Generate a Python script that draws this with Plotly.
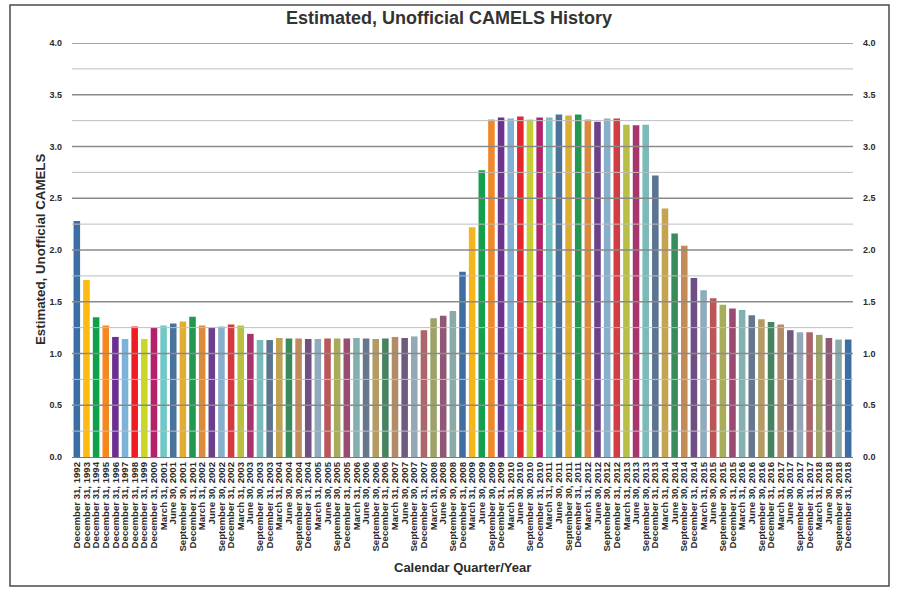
import colorsys
import plotly.graph_objects as go

# ---------------- data ----------------
annual_years = list(range(1992, 2001))
quarter_years = list(range(2001, 2019))
quarter_days = ["March 31", "June 30", "September 30", "December 31"]

categories = [f"December 31, {y}" for y in annual_years] + [
    f"{q}, {y}" for y in quarter_years for q in quarter_days
]

camels = [
    2.28, 1.71, 1.35, 1.27, 1.16, 1.14, 1.26, 1.14, 1.25,   # 1992-2000 (annual)
    1.27, 1.29, 1.31, 1.355,    # 2001
    1.27, 1.25, 1.26, 1.28,     # 2002
    1.27, 1.19, 1.13, 1.13,     # 2003
    1.15, 1.145, 1.145, 1.14,   # 2004
    1.14, 1.145, 1.145, 1.145,  # 2005
    1.15, 1.145, 1.14, 1.145,   # 2006
    1.16, 1.15, 1.165, 1.225,   # 2007
    1.34, 1.365, 1.41, 1.79,    # 2008
    2.22, 2.77, 3.26, 3.28,     # 2009
    3.27, 3.29, 3.26, 3.28,     # 2010
    3.28, 3.31, 3.30, 3.31,     # 2011
    3.26, 3.24, 3.27, 3.27,     # 2012
    3.21, 3.205, 3.21, 2.72,    # 2013
    2.40, 2.16, 2.04, 1.73,     # 2014
    1.61, 1.535, 1.47, 1.435,   # 2015
    1.42, 1.37, 1.33, 1.305,    # 2016
    1.28, 1.225, 1.205, 1.205,  # 2017
    1.18, 1.15, 1.135, 1.135,   # 2018
]

y_ticks = [0.0, 0.5, 1.0, 1.5, 2.0, 2.5, 3.0, 3.5, 4.0]
y_tick_text = [f"{v:.1f}" for v in y_ticks]

# ---------------- styles ----------------
base_colors = ["#3A6EA5", "#FDBA13", "#0DA24A", "#F7881F", "#6A2F91",
               "#7DB3D8", "#EE1D24", "#CBD62B", "#B5206A", "#6FC7C6"]
group_desat = [0.0, 0.25, 0.52, 0.65, 0.08, 0.28, 0.5, 0.65, 0.0]


def muted(hex_color, f):
    r, g, b = (int(hex_color[i:i + 2], 16) / 255 for i in (1, 3, 5))
    h, l, s = colorsys.rgb_to_hls(r, g, b)
    s = s * (1 - f)
    l = l + (0.58 - l) * f * 0.35
    r, g, b = colorsys.hls_to_rgb(h, l, s)
    return "#%02X%02X%02X" % (round(r * 255), round(g * 255), round(b * 255))


bar_colors = [muted(base_colors[i % 10], group_desat[i // 10]) for i in range(len(categories))]

FONT = "Liberation Sans, Arial, sans-serif"
TXT = "#2B2B2B"

fig = go.Figure()
fig.add_trace(go.Bar(
    x=categories, y=camels, marker=dict(color=bar_colors, line=dict(width=0)),
    showlegend=False,
))
# invisible trace to carry the right-hand axis
fig.add_trace(go.Scatter(
    x=categories, y=camels, yaxis="y2", mode="markers",
    marker=dict(opacity=0), hoverinfo="skip", showlegend=False,
))

# gridlines drawn over bars, as in the reference
shapes = []
for k in range(1, 17):
    v = k * 0.25
    major = (k % 2 == 0)
    shapes.append(dict(
        type="line", xref="paper", yref="y", x0=0, x1=1, y0=v, y1=v,
        layer="above",
        line=dict(color="#8A8A8A" if major else "#BEBEBE", width=1.3 if major else 1.0),
    ))
# outer frame
shapes.append(dict(
    type="rect", xref="paper", yref="paper",
    x0=(10 - 72) / 781, x1=(889 - 72) / 781,
    y0=(457 - 586) / 414, y1=(457 - 5) / 414,
    line=dict(color="#4A4A4A", width=1.5), layer="below",
))

fig.update_layout(
    width=898, height=590,
    margin=dict(l=72, r=45, t=43, b=133),
    paper_bgcolor="white", plot_bgcolor="white",
    bargap=0.32,
    font=dict(family=FONT, color=TXT),
    title=dict(
        text="<b>Estimated, Unofficial CAMELS History</b>",
        x=0.5, xanchor="center", xref="container",
        y=1 - 18 / 590, yanchor="middle", yref="container",
        font=dict(size=18, family=FONT, color="#333333"),
    ),
    xaxis=dict(
        type="category", tickmode="array", tickvals=categories, ticktext=categories,
        tickangle=-90, tickfont=dict(size=9.6, family=FONT, color=TXT, weight="bold"),
        showgrid=False, showline=True, linecolor="#7A7A7A", linewidth=1.3,
        ticks="", range=[-0.5, len(categories) - 0.5],
    ),
    yaxis=dict(
        range=[0, 4.0], tickmode="array", tickvals=y_ticks, ticktext=y_tick_text,
        tickfont=dict(size=9, family=FONT, color=TXT, weight="bold"),
        showgrid=False, zeroline=False, ticks="", ticklabelstandoff=9,
    ),
    yaxis2=dict(
        range=[0, 4.0], tickmode="array", tickvals=y_ticks, ticktext=y_tick_text,
        overlaying="y", side="right",
        tickfont=dict(size=9, family=FONT, color=TXT, weight="bold"),
        showgrid=False, zeroline=False, ticks="", ticklabelstandoff=9,
    ),
    shapes=shapes,
    annotations=[
        dict(text="<b>Estimated, Unofficial CAMELS</b>", textangle=-90,
             xref="paper", yref="paper", x=(40 - 72) / 781, y=0.5,
             xanchor="center", yanchor="middle", showarrow=False,
             font=dict(size=13.3, family=FONT, color=TXT)),
        dict(text="<b>Calendar Quarter/Year</b>",
             xref="paper", yref="paper", x=(462 - 72) / 781, y=(457 - 567) / 414,
             xanchor="center", yanchor="middle", showarrow=False,
             font=dict(size=13, family=FONT, color=TXT)),
    ],
)

fig.write_html("out.html", config={"displayModeBar": False},
               post_script="document.body.style.margin='0';")
